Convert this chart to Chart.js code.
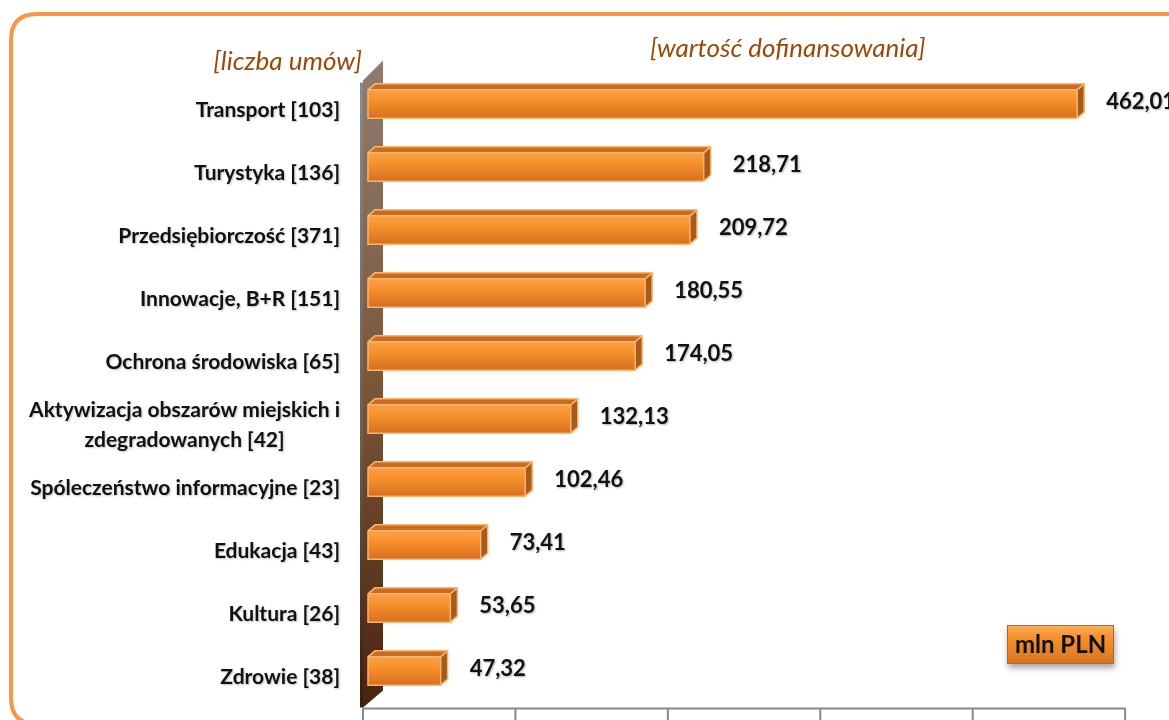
<!DOCTYPE html>
<html>
<head>
<meta charset="utf-8">
<script src="https://cdn.jsdelivr.net/npm/chart.js@4.4.1/dist/chart.umd.min.js"></script>
<style>
html, body { margin: 0; padding: 0; background: #fff; }
#wrap { width: 1169px; height: 720px; position: relative; }
</style>
</head>
<body>
<div id="wrap"><canvas id="fundChart"></canvas></div>
<script>
// Data
const sectors = [
    'Transport [103]',
    'Turystyka [136]',
    'Przedsiębiorczość [371]',
    'Innowacje, B+R [151]',
    'Ochrona środowiska [65]',
    ['Aktywizacja obszarów miejskich i', 'zdegradowanych [42]'],
    'Spóleczeństwo informacyjne [23]',
    'Edukacja [43]',
    'Kultura [26]',
    'Zdrowie [38]'
];
const funding = [462.01, 218.71, 209.72, 180.55, 174.05, 132.13, 102.46, 73.41, 53.65, 47.32];
const axisTicks = [0, 100, 200, 300, 400, 500];
const leftTitle = '[liczba umów]';
const rightTitle = '[wartość dofinansowania]';
const unitLabel = 'mln PLN';

const FONT = 'Lato, "Open Sans", sans-serif';
const DEPTH_X = 7, DEPTH_Y = -6;

function formatPl(v) {
    return v.toFixed(2).replace('.', ',');
}

function roundRect(ctx, x, y, w, h, r) {
    ctx.beginPath();
    ctx.moveTo(x + r, y);
    ctx.lineTo(x + w - r, y);
    ctx.quadraticCurveTo(x + w, y, x + w, y + r);
    ctx.lineTo(x + w, y + h - r);
    ctx.quadraticCurveTo(x + w, y + h, x + w - r, y + h);
    ctx.lineTo(x + r, y + h);
    ctx.quadraticCurveTo(x, y + h, x, y + h - r);
    ctx.lineTo(x, y + r);
    ctx.quadraticCurveTo(x, y, x + r, y);
    ctx.closePath();
}

// frame, wall, floor axis and texts
const decorPlugin = {
    id: 'decor',
    beforeDraw(chart) {
        const ctx = chart.ctx;
        const area = chart.chartArea;
        const xs = chart.scales.x;
        ctx.save();
        ctx.fillStyle = '#fff';
        ctx.fillRect(0, 0, chart.width, chart.height);

        // orange rounded frame
        ctx.strokeStyle = '#F79646';
        ctx.lineWidth = 4;
        roundRect(ctx, 11, 14, 1200, 710, 26);
        ctx.stroke();

        // left wall (3D)
        const wx = area.left - 5;
        const wallGrad = ctx.createLinearGradient(0, area.top, 0, area.bottom);
        wallGrad.addColorStop(0, '#8f7b6d');
        wallGrad.addColorStop(0.5, '#7a5638');
        wallGrad.addColorStop(1, '#4a2410');
        ctx.fillStyle = wallGrad;
        ctx.beginPath();
        ctx.moveTo(wx, area.top + 8);
        ctx.lineTo(wx + 20, area.top - 12);
        ctx.lineTo(wx + 20, area.bottom - 12);
        ctx.lineTo(wx, area.bottom + 5);
        ctx.closePath();
        ctx.fill();
        const edgeGrad = ctx.createLinearGradient(0, area.top, 0, area.bottom);
        edgeGrad.addColorStop(0, '#8c8c8c');
        edgeGrad.addColorStop(0.6, '#6e5a4a');
        edgeGrad.addColorStop(1, '#3a1c0a');
        ctx.fillStyle = edgeGrad;
        ctx.fillRect(wx - 3, area.top + 10, 3, area.bottom - area.top - 5);

        // floor axis with ticks
        const y0 = area.bottom + 6;
        const mapX = v => wx + (xs.getPixelForValue(v) - area.left) * 0.993;
        ctx.strokeStyle = '#888';
        ctx.lineWidth = 2;
        ctx.beginPath();
        ctx.moveTo(mapX(axisTicks[0]) - 1, y0);
        ctx.lineTo(mapX(axisTicks[axisTicks.length - 1]) + 1, y0);
        axisTicks.forEach(t => {
            ctx.moveTo(mapX(t), y0);
            ctx.lineTo(mapX(t), y0 + 14);
        });
        ctx.stroke();

        // titles
        ctx.fillStyle = '#994a0a';
        ctx.font = 'italic 26px ' + FONT;
        ctx.textBaseline = 'middle';
        ctx.textAlign = 'right';
        ctx.fillText(leftTitle, wx - 1, 62);
        ctx.textAlign = 'left';
        ctx.fillText(rightTitle, 650, 49);
        ctx.restore();
    },
    afterDatasetsDraw(chart) {
        const ctx = chart.ctx;
        const meta = chart.getDatasetMeta(0);
        const ys = chart.scales.y;
        ctx.save();
        meta.data.forEach((bar, i) => {
            const p = bar.getProps(['x', 'y', 'base', 'height'], true);
            const x0 = p.base, x1 = p.x;
            const top = p.y - p.height / 2, bot = p.y + p.height / 2;

            // front face
            const g = ctx.createLinearGradient(0, top, 0, bot);
            g.addColorStop(0, '#f8a048');
            g.addColorStop(0.35, '#f8922c');
            g.addColorStop(1, '#d66f1e');
            ctx.fillStyle = g;
            ctx.fillRect(x0, top, x1 - x0, bot - top);

            // top face
            ctx.fillStyle = '#c96c22';
            ctx.beginPath();
            ctx.moveTo(x0, top);
            ctx.lineTo(x0 + DEPTH_X, top + DEPTH_Y);
            ctx.lineTo(x1 + DEPTH_X, top + DEPTH_Y);
            ctx.lineTo(x1, top);
            ctx.closePath();
            ctx.fill();

            // side face
            ctx.fillStyle = '#a85a1c';
            ctx.beginPath();
            ctx.moveTo(x1, top);
            ctx.lineTo(x1 + DEPTH_X, top + DEPTH_Y);
            ctx.lineTo(x1 + DEPTH_X, bot + DEPTH_Y);
            ctx.lineTo(x1, bot);
            ctx.closePath();
            ctx.fill();

            // light edges
            ctx.strokeStyle = '#fbb46c';
            ctx.lineWidth = 1.5;
            ctx.beginPath();
            ctx.moveTo(x0, top);
            ctx.lineTo(x0 + DEPTH_X, top + DEPTH_Y);
            ctx.lineTo(x1 + DEPTH_X, top + DEPTH_Y);
            ctx.lineTo(x1 + DEPTH_X, bot + DEPTH_Y);
            ctx.lineTo(x1, bot);
            ctx.lineTo(x0, bot);
            ctx.closePath();
            ctx.moveTo(x1, top);
            ctx.lineTo(x1 + DEPTH_X, top + DEPTH_Y);
            ctx.moveTo(x1, top);
            ctx.lineTo(x1, bot);
            ctx.moveTo(x0, top);
            ctx.lineTo(x1, top);
            ctx.stroke();

            // value label
            ctx.shadowColor = 'rgba(0,0,0,0.3)';
            ctx.shadowBlur = 2;
            ctx.shadowOffsetX = 1;
            ctx.shadowOffsetY = 1;
            ctx.fillStyle = '#111';
            ctx.font = 'bold 22px ' + FONT;
            ctx.textAlign = 'left';
            ctx.textBaseline = 'middle';
            ctx.fillText(formatPl(funding[i]), x1 + DEPTH_X + 22, p.y - 2);
            ctx.shadowColor = 'transparent';
        });

        // category labels (multi-line ones centred within their block)
        ctx.shadowColor = 'rgba(0,0,0,0.25)';
        ctx.shadowBlur = 2;
        ctx.shadowOffsetX = 1;
        ctx.shadowOffsetY = 1;
        ctx.fillStyle = '#111';
        ctx.font = 'bold 21px ' + FONT;
        ctx.textBaseline = 'middle';
        ctx.textAlign = 'center';
        const right = chart.chartArea.left - 28;
        sectors.forEach((lab, i) => {
            const lines = Array.isArray(lab) ? lab : [lab];
            const w = Math.max(...lines.map(l => ctx.measureText(l).width));
            const cy = ys.getPixelForValue(i) + 6;
            const lh = 30;
            lines.forEach((l, k) => {
                ctx.fillText(l, right - w / 2, cy + (k - (lines.length - 1) / 2) * lh);
            });
        });

        // unit box
        ctx.shadowColor = 'rgba(0,0,0,0.35)';
        ctx.shadowBlur = 6;
        ctx.shadowOffsetX = 1;
        ctx.shadowOffsetY = 4;
        const bx = 1007, by = 625, bw = 107, bh = 39;
        const bg = ctx.createLinearGradient(0, by, 0, by + bh);
        bg.addColorStop(0, '#fbb060');
        bg.addColorStop(0.3, '#f7922e');
        bg.addColorStop(1, '#d8741e');
        ctx.fillStyle = bg;
        ctx.fillRect(bx, by, bw, bh);
        ctx.shadowColor = 'transparent';
        ctx.strokeStyle = '#c0661c';
        ctx.lineWidth = 1;
        ctx.strokeRect(bx + 0.5, by + 0.5, bw - 1, bh - 1);
        ctx.fillStyle = '#111';
        ctx.font = 'bold 24px ' + FONT;
        ctx.textAlign = 'center';
        ctx.fillText(unitLabel, bx + bw / 2, by + bh / 2 + 1);
        ctx.restore();
    }
};

new Chart(document.getElementById('fundChart'), {
    type: 'bar',
    data: {
        labels: sectors,
        datasets: [{
            data: funding,
            backgroundColor: '#f08c30',
            borderWidth: 0,
            barPercentage: 0.45,
            categoryPercentage: 1
        }]
    },
    options: {
        indexAxis: 'y',
        responsive: true,
        maintainAspectRatio: false,
        animation: false,
        layout: {
            padding: { top: 72.5, bottom: 17.5, right: 33.5, left: 0 }
        },
        plugins: {
            legend: { display: false },
            tooltip: { enabled: false }
        },
        scales: {
            x: {
                display: false,
                min: axisTicks[0],
                max: axisTicks[axisTicks.length - 1]
            },
            y: {
                grid: { display: false, drawTicks: false },
                border: { display: false },
                ticks: { display: false },
                afterFit: function(scale) { scale.width = 368; }
            }
        }
    },
    plugins: [decorPlugin]
});
</script>
</body>
</html>
